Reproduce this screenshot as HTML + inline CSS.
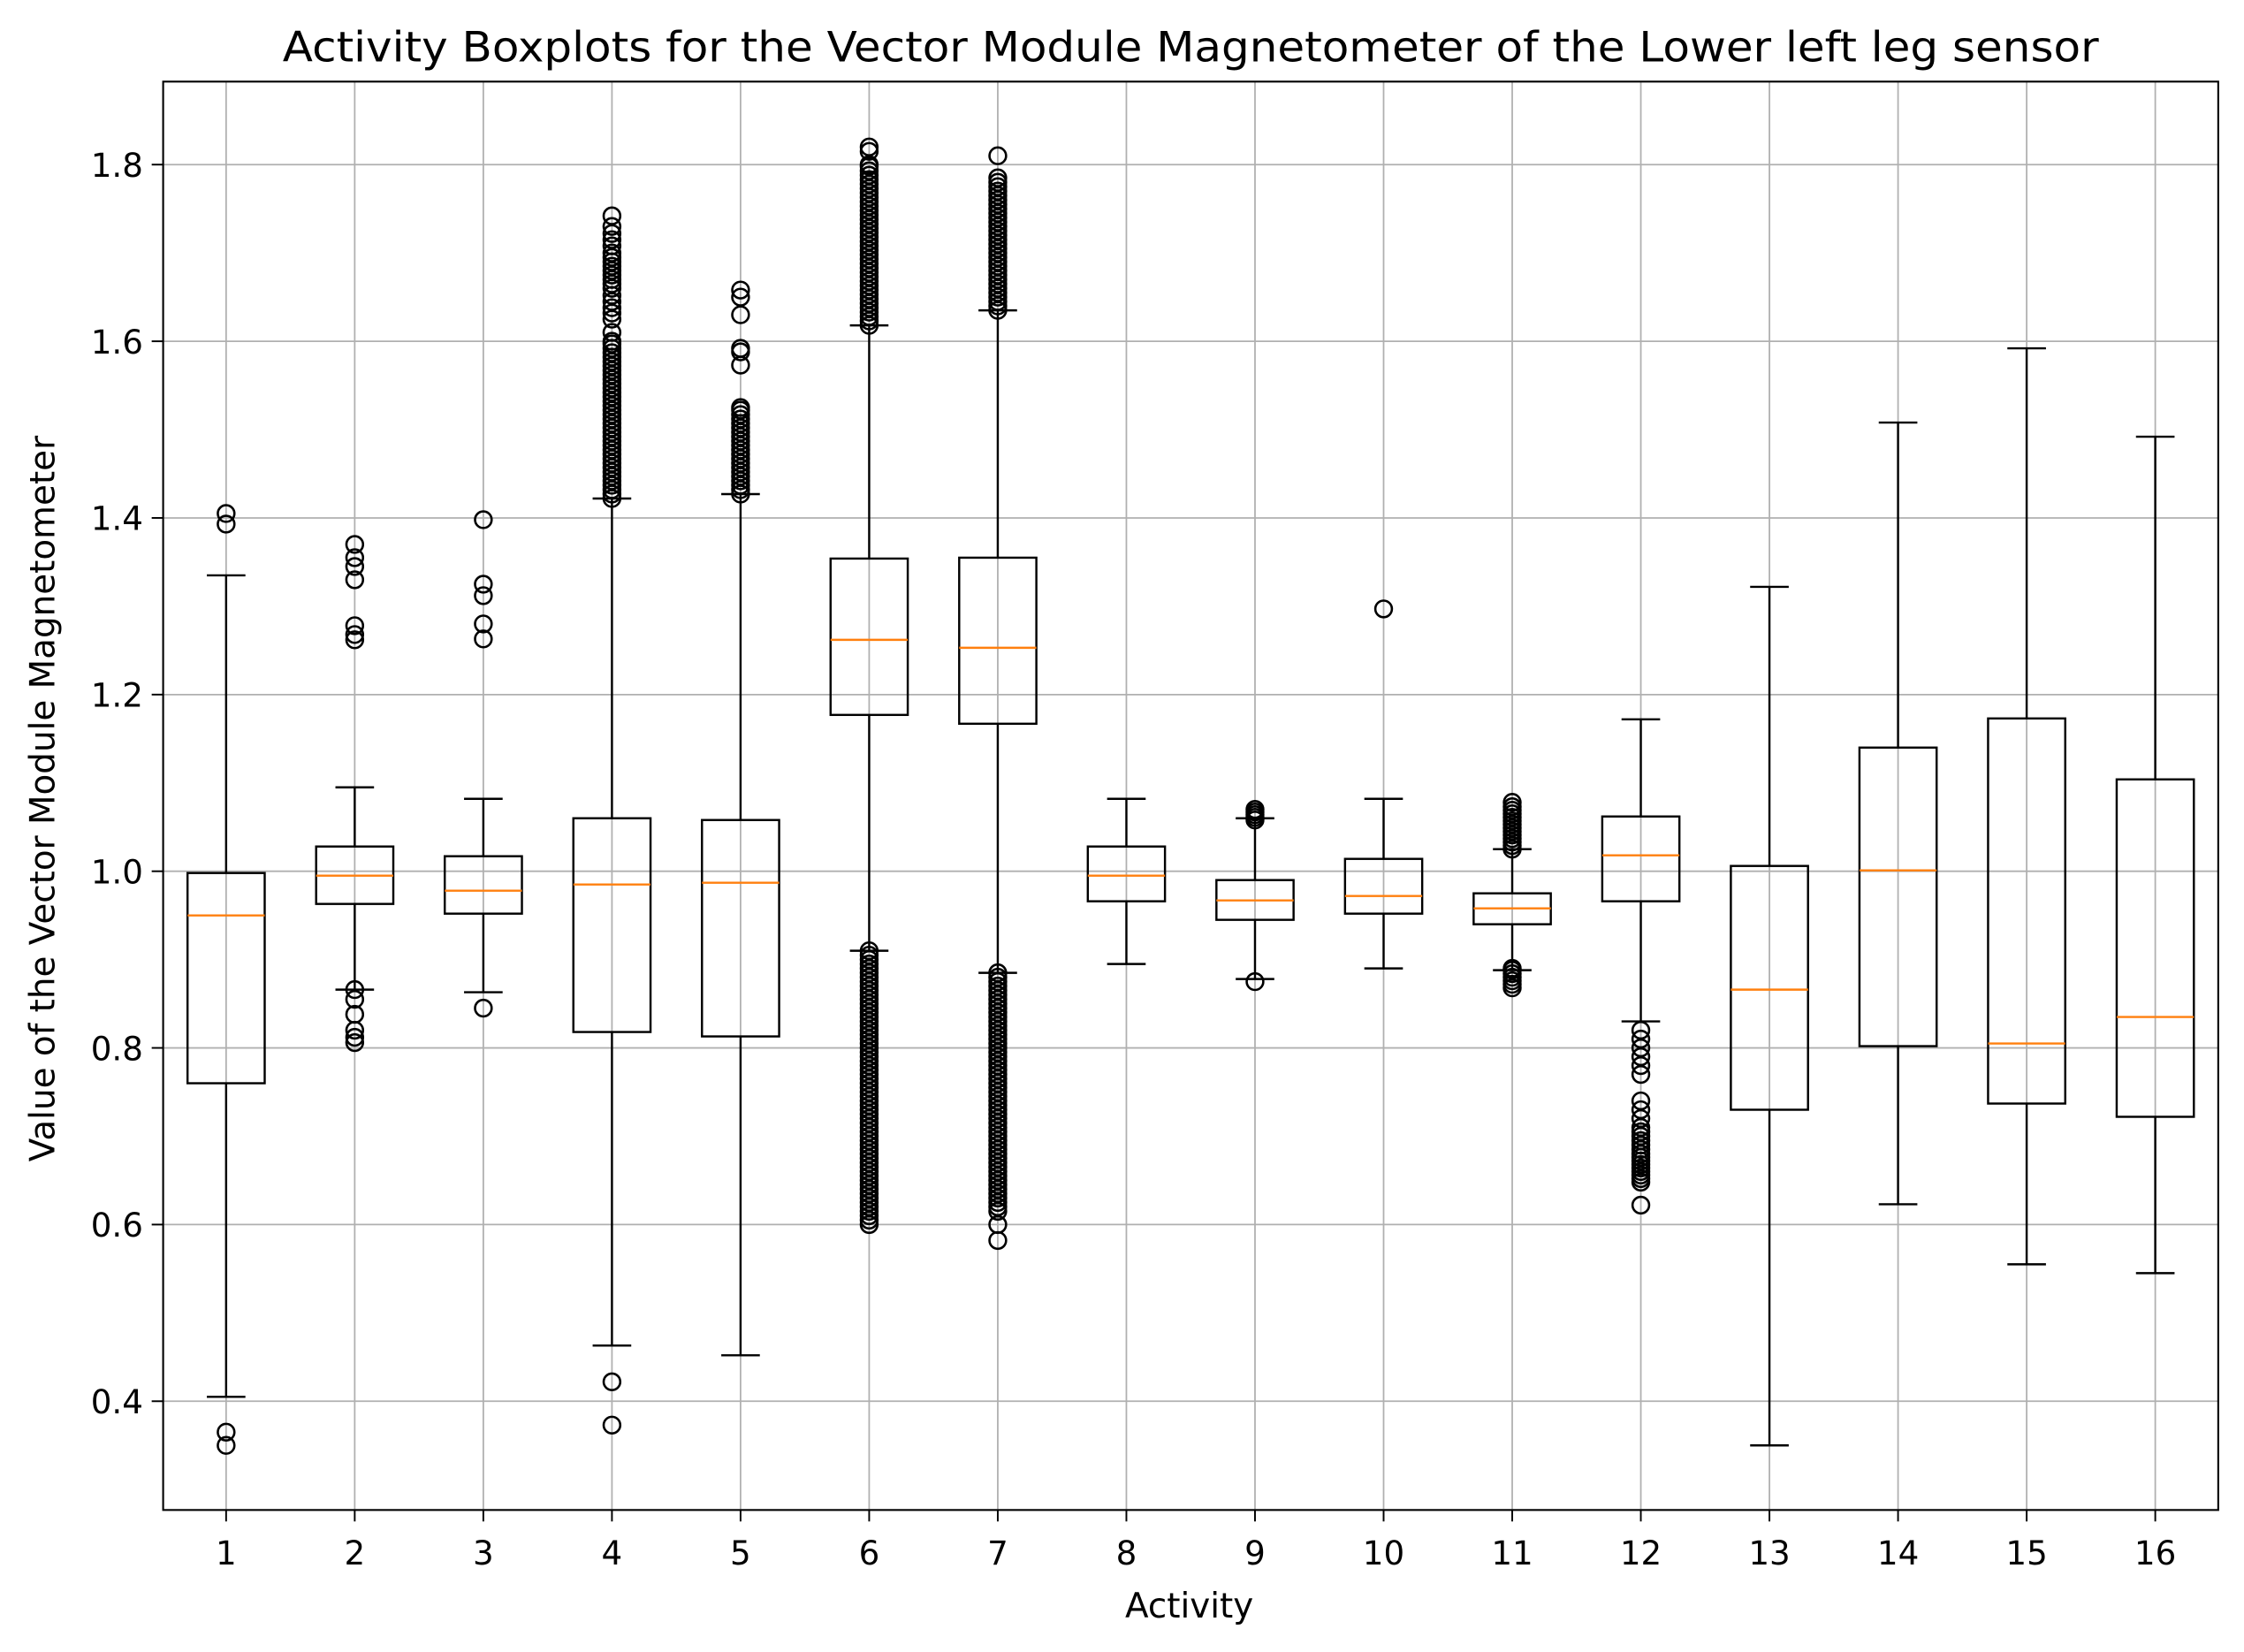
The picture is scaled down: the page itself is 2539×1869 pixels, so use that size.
<!DOCTYPE html>
<html><head><meta charset="utf-8"><style>
html,body{margin:0;padding:0;background:#fff}
svg{display:block}
text{font-family:"DejaVu Sans","Liberation Sans",sans-serif;fill:#000}
</style></head><body>
<svg id="chart" width="2539" height="1869" viewBox="0 0 1568 1154.2" xmlns="http://www.w3.org/2000/svg">
<rect x="0" y="0" width="1568" height="1155" fill="#fff"/>
<g id="grid"></g>
<g id="boxes"></g>
<rect x="114" y="57" width="1436" height="998" fill="none" stroke="#000" stroke-width="1.3"/>
<g id="ticks"></g>
<text x="832" y="43" font-size="29" text-anchor="middle" textLength="1269" lengthAdjust="spacingAndGlyphs">Activity Boxplots for the Vector Module Magnetometer of the Lower left leg sensor</text>
<text x="831" y="1130" font-size="24" text-anchor="middle">Activity</text>
<text transform="translate(38,558) rotate(-90)" font-size="24" text-anchor="middle">Value of the Vector Module Magnetometer</text>
</svg>
<script>
const categories=["1","2","3","4","5","6","7","8","9","10","11","12","13","14","15","16"];
const whiskerLow=[0.405,0.866,0.863,0.463,0.452,0.910,0.885,0.895,0.878,0.890,0.888,0.830,0.350,0.623,0.555,0.545];
const q1=[0.760,0.963,0.952,0.818,0.813,1.177,1.167,0.966,0.945,0.952,0.940,0.966,0.730,0.802,0.737,0.722];
const medians=[0.950,0.995,0.978,0.985,0.987,1.262,1.253,0.995,0.967,0.972,0.958,1.018,0.866,1.001,0.805,0.835];
const q3=[0.998,1.028,1.017,1.060,1.058,1.354,1.355,1.028,0.990,1.014,0.975,1.062,1.006,1.140,1.173,1.104];
const whiskerHigh=[1.335,1.095,1.082,1.422,1.427,1.618,1.635,1.082,1.060,1.082,1.025,1.172,1.322,1.508,1.592,1.492];
const fliers1=[1.405,1.393,0.365,0.350];
const fliers2=[1.370,1.355,1.345,1.330,1.278,1.268,1.262,0.866,0.855,0.838,0.820,0.812,0.806];
const fliers3=[1.398,1.325,1.312,1.280,1.263,0.845];
const fliers4=[1.422,1.427,1.432,1.437,1.442,1.447,1.452,1.457,1.462,1.467,1.472,1.477,1.482,1.487,1.492,1.497,1.502,1.507,1.512,1.517,1.522,1.527,1.532,1.537,1.542,1.547,1.552,1.557,1.562,1.567,1.572,1.577,1.582,1.587,1.592,1.597,1.60,1.61,1.625,1.632,1.638,1.645,1.652,1.66,1.665,1.67,1.675,1.68,1.685,1.69,1.695,1.70,1.708,1.715,1.722,1.73,1.742,0.422,0.373];
const fliers5=[1.427,1.432,1.437,1.442,1.447,1.452,1.457,1.462,1.467,1.472,1.477,1.482,1.487,1.492,1.497,1.502,1.507,1.512,1.517,1.522,1.525,1.573,1.588,1.592,1.63,1.65,1.658];
const fliers6=[1.618,1.623,1.628,1.633,1.638,1.643,1.648,1.653,1.658,1.663,1.668,1.673,1.678,1.683,1.688,1.693,1.698,1.703,1.708,1.713,1.718,1.723,1.728,1.733,1.738,1.743,1.748,1.753,1.758,1.763,1.768,1.773,1.778,1.783,1.788,1.793,1.798,1.80,1.815,1.82,0.60,0.605,0.61,0.615,0.62,0.625,0.63,0.635,0.64,0.645,0.65,0.655,0.66,0.665,0.67,0.675,0.68,0.685,0.69,0.695,0.70,0.705,0.71,0.715,0.72,0.725,0.73,0.735,0.74,0.745,0.75,0.755,0.76,0.765,0.77,0.775,0.78,0.785,0.79,0.795,0.80,0.805,0.81,0.815,0.82,0.825,0.83,0.835,0.84,0.845,0.85,0.855,0.86,0.865,0.87,0.875,0.88,0.885,0.89,0.895,0.90,0.905,0.91];
const fliers7=[1.635,1.64,1.645,1.65,1.655,1.66,1.665,1.67,1.675,1.68,1.685,1.69,1.695,1.70,1.705,1.71,1.715,1.72,1.725,1.73,1.735,1.74,1.745,1.75,1.755,1.76,1.765,1.77,1.775,1.78,1.785,1.81,0.615,0.62,0.625,0.63,0.635,0.64,0.645,0.65,0.655,0.66,0.665,0.67,0.675,0.68,0.685,0.69,0.695,0.70,0.705,0.71,0.715,0.72,0.725,0.73,0.735,0.74,0.745,0.75,0.755,0.76,0.765,0.77,0.775,0.78,0.785,0.79,0.795,0.80,0.805,0.81,0.815,0.82,0.825,0.83,0.835,0.84,0.845,0.85,0.855,0.86,0.865,0.87,0.875,0.88,0.885,0.60,0.582];
const fliers8=[];
const fliers9=[1.058,1.061,1.064,1.067,1.07,0.875];
const fliers10=[1.297];
const fliers11=[1.025,1.029,1.033,1.037,1.041,1.045,1.049,1.053,1.057,1.061,1.065,1.069,1.073,1.078,0.868,0.872,0.876,0.88,0.884,0.888,0.890];
const fliers12=[0.622,0.648,0.652,0.656,0.66,0.664,0.668,0.672,0.676,0.68,0.685,0.69,0.695,0.70,0.705,0.71,0.72,0.73,0.74,0.77,0.78,0.79,0.80,0.81,0.82];
const fliers13=[],fliers14=[],fliers15=[],fliers16=[];
const fliers=[fliers1,fliers2,fliers3,fliers4,fliers5,fliers6,fliers7,fliers8,fliers9,fliers10,fliers11,fliers12,fliers13,fliers14,fliers15,fliers16];
const yTicks=[0.4,0.6,0.8,1.0,1.2,1.4,1.6,1.8];
const yTickLabels=["0.4","0.6","0.8","1.0","1.2","1.4","1.6","1.8"];

const NS="http://www.w3.org/2000/svg";
const L=114,R=1550,T=57,B=1055;
const xs=i=>158+(1506-158)*i/15;
const ys=v=>979-(v-0.4)*(864/1.4);
const step=(1506-158)/15, bw=step*0.6;
function mk(tag,attrs,parent){const e=document.createElementNS(NS,tag);for(const k in attrs)e.setAttribute(k,attrs[k]);parent.appendChild(e);return e;}
const grid=document.getElementById('grid'),boxes=document.getElementById('boxes'),ticks=document.getElementById('ticks');
categories.forEach((c,i)=>{
  const x=xs(i);
  const g=mk('line',{x1:x,x2:x,y1:T,y2:B,stroke:'#b0b0b0','stroke-width':1.1},grid);
  
  
  const t=mk('line',{x1:x,x2:x,y1:B,y2:B+8,stroke:'#000','stroke-width':1.2},ticks);
  
  
  const lb=mk('text',{x:x,y:B+38,'font-size':23,'text-anchor':'middle'},ticks);
  lb.textContent=c;
  
  
});
yTicks.forEach((v,i)=>{
  const y=ys(v);
  const g=mk('line',{x1:L,x2:R,y1:y,y2:y,stroke:'#b0b0b0','stroke-width':1.1},grid);
  
  
  const t=mk('line',{x1:L-8,x2:L,y1:y,y2:y,stroke:'#000','stroke-width':1.2},ticks);
  
  
  const lb=mk('text',{x:L-14,y:y+8.5,'font-size':23,'text-anchor':'end'},ticks);
  lb.textContent=yTickLabels[i];
  
  
});
categories.forEach((c,i)=>{
  const x=xs(i);
  const g=mk('g',{},boxes);
  
  
  const s={stroke:'#000','stroke-width':1.5,fill:'none'};
  mk('line',Object.assign({x1:x,x2:x,y1:ys(whiskerLow[i]),y2:ys(q1[i])},s),g);
  mk('line',Object.assign({x1:x,x2:x,y1:ys(q3[i]),y2:ys(whiskerHigh[i])},s),g);
  mk('line',Object.assign({x1:x-bw/4,x2:x+bw/4,y1:ys(whiskerLow[i]),y2:ys(whiskerLow[i])},s),g);
  mk('line',Object.assign({x1:x-bw/4,x2:x+bw/4,y1:ys(whiskerHigh[i]),y2:ys(whiskerHigh[i])},s),g);
  mk('rect',Object.assign({x:x-bw/2,y:ys(q3[i]),width:bw,height:ys(q1[i])-ys(q3[i])},s),g);
  mk('line',{x1:x-bw/2,x2:x+bw/2,y1:ys(medians[i]),y2:ys(medians[i]),stroke:'#ff7f0e','stroke-width':1.5},g);
  fliers[i].forEach(v=>{mk('ellipse',{cx:x,cy:ys(v),rx:5.8,ry:5.8,fill:'none',stroke:'#000','stroke-width':1.6},g);});
});
</script>
</body></html>
